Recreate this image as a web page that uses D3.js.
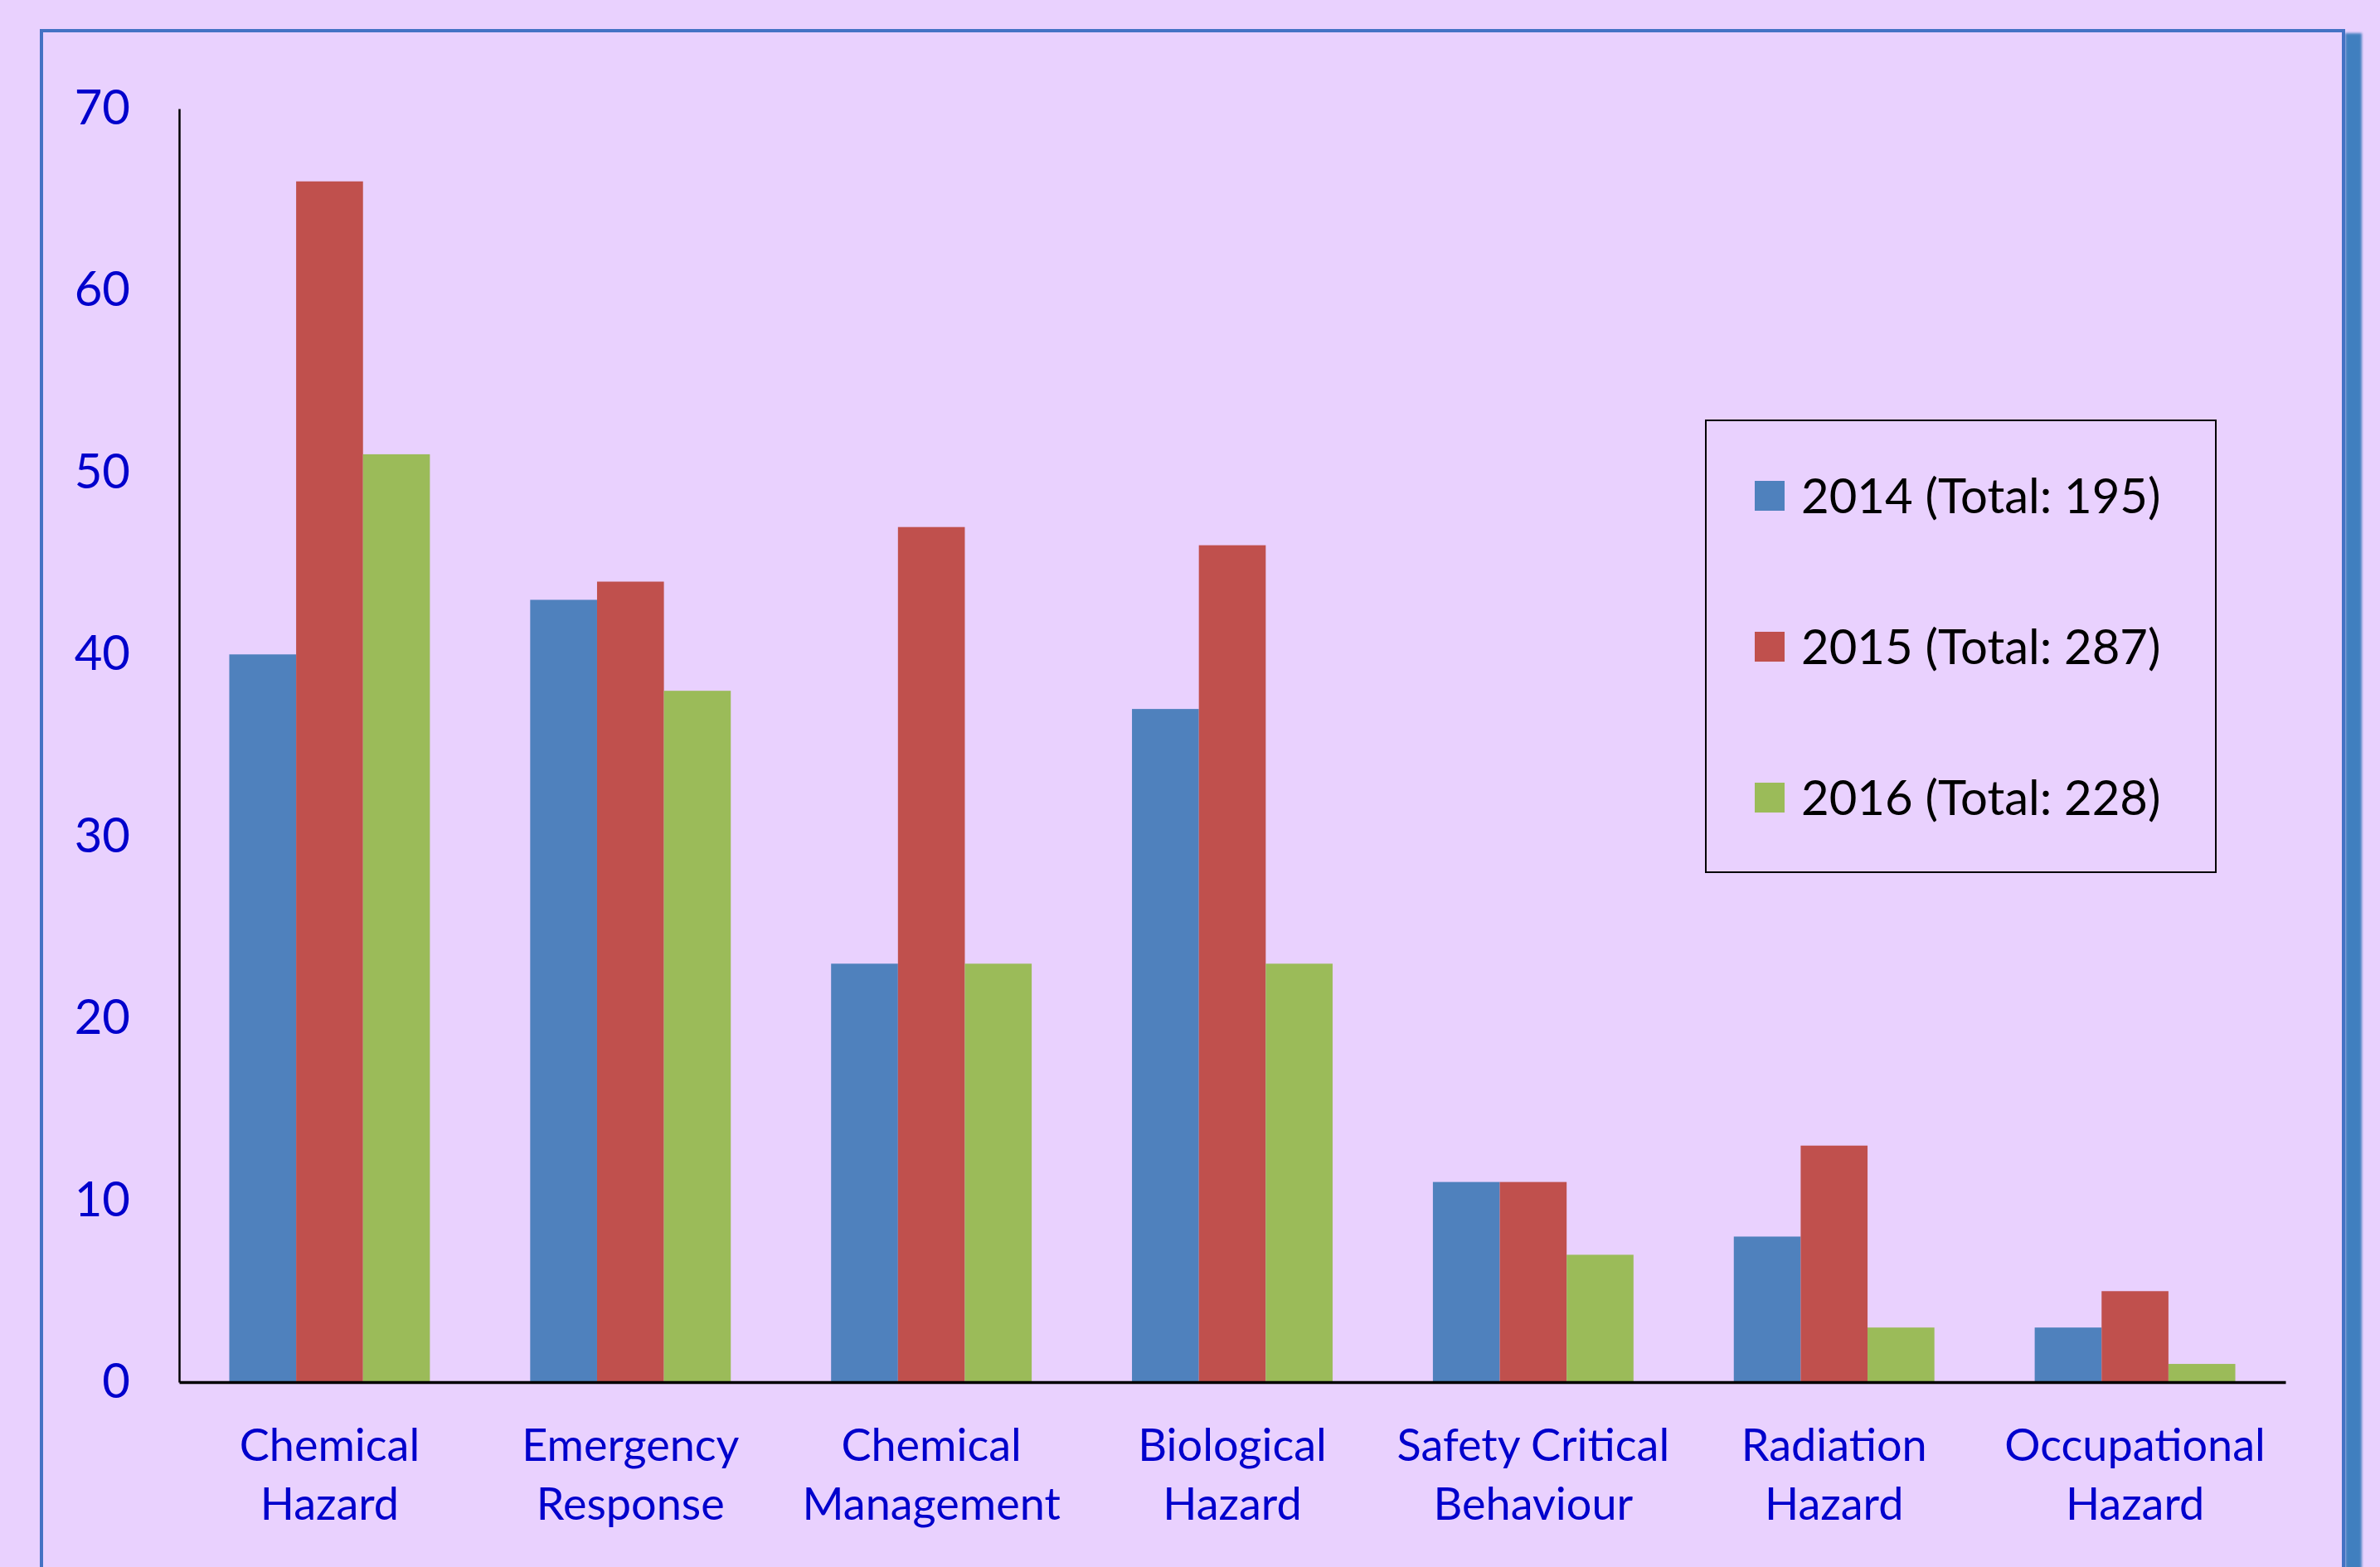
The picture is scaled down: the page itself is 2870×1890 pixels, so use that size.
<!DOCTYPE html>
<html>
<head>
<meta charset="utf-8">
<script src="https://cdn.jsdelivr.net/npm/d3@7"></script>
<style>
  html, body { margin: 0; padding: 0; background: #e9d1fe; }
  svg { display: block; font-family: Lato, "Open Sans", sans-serif; }
</style>
</head>
<body>
<div id="app"></div>
<script>
// chart data
const categories = [
  ['Chemical', 'Hazard'],
  ['Emergency', 'Response'],
  ['Chemical', 'Management'],
  ['Biological', 'Hazard'],
  ['Safety Critical', 'Behaviour'],
  ['Radiation', 'Hazard'],
  ['Occupational', 'Hazard']
];
const years = ['2014', '2015', '2016'];
const totals = [195, 287, 228];
const values2014 = [40, 43, 23, 37, 11, 8, 3];
const values2015 = [66, 44, 47, 46, 11, 13, 5];
const values2016 = [51, 38, 23, 23, 7, 3, 1];
const yTicks = [0, 10, 20, 30, 40, 50, 60, 70];

const series = [values2014, values2015, values2016];
const colors = ['#4f81bd', '#c0504d', '#9bbb59'];

const W = 2870, H = 1890;
const plot = {left: 216, right: 2756, top: 131, bottom: 1667};

const svg = d3.select('#app')
  .append('svg')
  .attr('width', W)
  .attr('height', H);

// outer frame with its right hand shadow
const defs = svg.append('defs');
defs.append('filter').attr('id', 'soft')
  .attr('x', '-50%').attr('width', '200%')
  .append('feGaussianBlur').attr('stdDeviation', 1.6);

svg.append('rect')
  .attr('x', 2828).attr('y', 40)
  .attr('width', 20).attr('height', H)
  .attr('fill', '#3f7fbf')
  .attr('filter', 'url(#soft)');

svg.append('rect')
  .attr('x', 50).attr('y', 37)
  .attr('width', 2776).attr('height', H)
  .attr('fill', '#e9d1fe')
  .attr('stroke', '#4472c4')
  .attr('stroke-width', 4);

const catNames = categories.map(c => c.join(' '));

const x0 = d3.scaleBand()
  .domain(catNames)
  .range([plot.left, plot.right]);

const bw = x0.bandwidth();
const gap = bw / 4.5 * 0.75;   // excel style gap width 150%
const x1 = d3.scaleBand()
  .domain(years)
  .range([gap, bw - gap]);

const y = d3.scaleLinear()
  .domain([0, 70])
  .range([plot.bottom, plot.top]);

// bars
const groups = svg.selectAll('g.cat')
  .data(catNames).enter()
  .append('g')
  .classed('cat', true)
  .attr('transform', d => `translate(${x0(d)},0)`);

groups.selectAll('rect.bar')
  .data((d, i) => years.map((yr, j) => ({year: yr, value: series[j][i], idx: j})))
  .enter()
  .append('rect')
  .classed('bar', true)
  .attr('x', d => x1(d.year))
  .attr('width', x1.bandwidth())
  .attr('y', d => y(d.value))
  .attr('height', d => y(0) - y(d.value))
  .attr('fill', d => colors[d.idx]);

// y axis
const yAxis = svg.append('g')
  .attr('transform', `translate(${plot.left},0)`)
  .call(d3.axisLeft(y).tickValues(yTicks).tickSize(0).tickPadding(59));
yAxis.select('.domain').attr('stroke', '#000').attr('stroke-width', 2.5);
yAxis.selectAll('text')
  .attr('fill', '#0000cc')
  .style('font-size', '58px')
  .style('font-family', 'Lato, sans-serif');

// x axis
const xAxis = svg.append('g')
  .attr('transform', `translate(0,${plot.bottom})`)
  .call(d3.axisBottom(x0).tickSize(0).tickFormat(''));
xAxis.select('.domain').attr('stroke', '#000').attr('stroke-width', 3.5);

xAxis.selectAll('.tick').each(function(d, i) {
  const t = d3.select(this).append('text')
    .attr('text-anchor', 'middle')
    .attr('fill', '#0000cc')
    .style('font-size', '54px')
    .style('font-family', 'Lato, sans-serif');
  categories[i].forEach((line, k) => {
    t.append('tspan').attr('x', 0).attr('y', 95 + k * 71).text(line);
  });
});

// legend
const legend = svg.append('g').attr('transform', 'translate(2057,507)');
legend.append('rect')
  .attr('width', 615).attr('height', 545)
  .attr('fill', 'none')
  .attr('stroke', '#000')
  .attr('stroke-width', 2);

const rows = legend.selectAll('g.row')
  .data(years).enter()
  .append('g')
  .classed('row', true)
  .attr('transform', (d, i) => `translate(0,${91 + i * 182})`);

rows.append('rect')
  .attr('x', 59).attr('y', -18)
  .attr('width', 36).attr('height', 36)
  .attr('fill', (d, i) => colors[i]);

rows.append('text')
  .attr('x', 115)
  .attr('dy', '0.36em')
  .attr('fill', '#000')
  .style('font-size', '58px')
  .text((d, i) => `${d} (Total: ${totals[i]})`);
</script>
</body>
</html>
